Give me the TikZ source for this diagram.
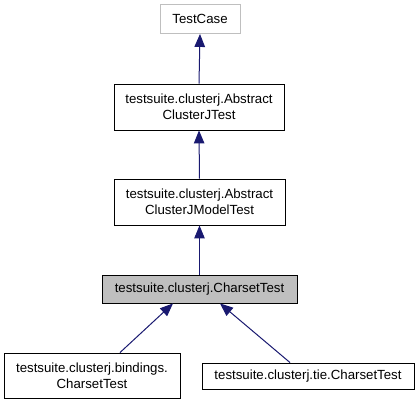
\documentclass[tikz,border=0pt]{standalone}
\usepackage{fontspec}
\setmainfont{Liberation Sans}
\usetikzlibrary{arrows.meta}
\definecolor{edgeblue}{HTML}{191970}
\definecolor{greyline}{HTML}{BFBFBF}
\definecolor{greyfill}{HTML}{BFBFBF}
\tikzset{
  cls/.style={draw=black, line width=0.9bp, rectangle, inner sep=0pt, align=center,
    font=\fontsize{13.3}{15.6}\selectfont},
  inh/.style={draw=edgeblue, line width=1bp, -{Triangle[length=13bp,width=10.5bp]}, fill=none},
}
\begin{document}
\begin{tikzpicture}[x=1bp,y=1bp]
\useasboundingbox (0,0) rectangle (419,405);
\node[cls, draw=greyline, minimum width=80bp, minimum height=29bp] (tc) at (200,386) {TestCase};
\node[cls, minimum width=170bp, minimum height=46bp] (acjt) at (199,298) {testsuite.clusterj.Abstract\\ClusterJTest};
\node[cls, minimum width=171bp, minimum height=46bp] (acjmt) at (199.5,203) {testsuite.clusterj.Abstract\\ClusterJModelTest};
\node[cls, fill=greyfill, minimum width=195bp, minimum height=28bp] (cs) at (199.5,116) {testsuite.clusterj.CharsetTest};
\node[cls, minimum width=176bp, minimum height=45bp] (bind) at (92,29.5) {testsuite.clusterj.bindings.\\CharsetTest};
\node[cls, minimum width=212bp, minimum height=26bp] (tie) at (308,29) {testsuite.clusterj.tie.CharsetTest};
\draw[inh] (acjt.north) -- (tc.south);
\draw[inh] (acjmt.north) -- (acjt.south);
\draw[inh] (cs.north) -- (acjmt.south);
\draw[inh] ([xshift=28bp]bind.north) -- ([xshift=-26.5bp]cs.south);
\draw[inh] ([xshift=-18bp]tie.north) -- ([xshift=20.5bp]cs.south);
\end{tikzpicture}
\end{document}
